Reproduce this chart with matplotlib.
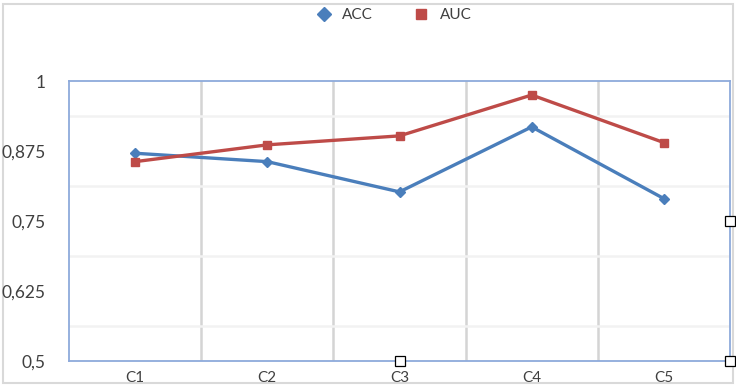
import matplotlib
matplotlib.use("Agg")
import matplotlib.pyplot as plt
from matplotlib.lines import Line2D
from matplotlib.patches import Rectangle

categories = ["C1", "C2", "C3", "C4", "C5"]
acc = [0.871, 0.856, 0.802, 0.918, 0.790]
auc = [0.856, 0.886, 0.902, 0.975, 0.890]
yticks = [0.5, 0.625, 0.75, 0.875, 1.0]
ytick_labels = ["0,5", "0,625", "0,75", "0,875", "1"]

plt.rcParams['font.family'] = ['Lato', 'DejaVu Sans']

fig = plt.figure(figsize=(7.36, 3.85), dpi=100)
fig.patch.set_facecolor('white')
border = Rectangle((3/736, 2/385), 730/736, 379/385, transform=fig.transFigure,
                   fill=False, edgecolor='#d9d9d9', linewidth=1.5, zorder=-5)
fig.patches.append(border)

ax = fig.add_axes([69/736, 24/385, 661/736, 280/385])
x = list(range(1, len(categories) + 1))
blue = '#4a7ebb'
red = '#be4b48'
ax.plot(x, acc, color=blue, lw=2.4, marker='D', ms=5.5, zorder=4)
ax.plot(x, auc, color=red, lw=2.4, marker='s', ms=6, zorder=4)

ax.set_xlim(0.5, len(categories) + 0.5)
ax.set_ylim(0.5, 1.0)
ax.set_xticks(x)
ax.set_xticklabels(categories)
ax.set_yticks(yticks)
ax.set_yticklabels(ytick_labels)
ax.tick_params(axis='both', length=0, colors='#404040')
ax.tick_params(axis='y', pad=17, labelsize=12.5)
ax.tick_params(axis='x', pad=7, labelsize=11)

for b in [1.5, 2.5, 3.5, 4.5]:
    ax.axvline(b, color='#d4d4d4', lw=1.8, zorder=1)
for g in [0.5625, 0.6875, 0.8125, 0.9375]:
    ax.axhline(g, color='#f2f2f2', lw=1.8, zorder=1)

for s in ax.spines.values():
    s.set_color('#8eaadb')
    s.set_linewidth(1.3)

# selection handles
for (hx, hy) in [(3, 0.5), (5.5, 0.75), (5.5, 0.5)]:
    ax.plot([hx], [hy], marker='s', ms=7, mfc='white', mec='black', mew=0.9,
            linestyle='none', zorder=6, clip_on=False)

handles = [Line2D([], [], color=blue, marker='D', linestyle='none', ms=7),
           Line2D([], [], color=red, marker='s', linestyle='none', ms=7)]
fig.legend(handles, ["ACC", "AUC"], loc='center left', bbox_to_anchor=(302.5/736, 1 - 15/385),
           ncol=2, frameon=False, fontsize=11, handlelength=1.0, handletextpad=0.7,
           columnspacing=2.65, labelcolor='#404040')

fig.savefig("out.png", dpi=100)
